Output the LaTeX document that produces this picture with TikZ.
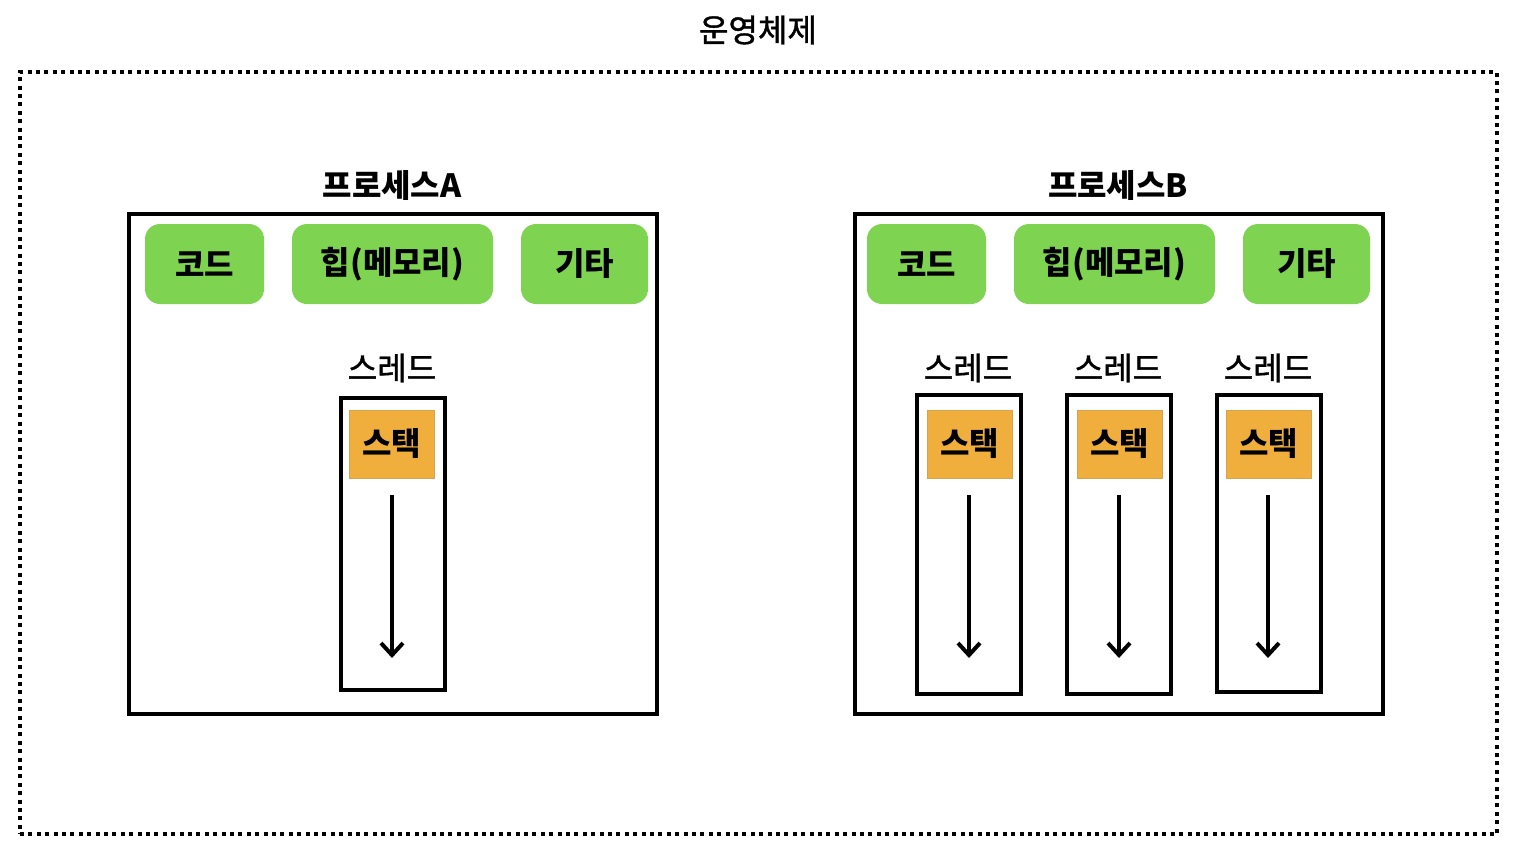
\documentclass[tikz,border=0pt]{standalone}
\usepackage{fontspec}
\setmainfont{Noto Sans CJK KR}
\newfontfamily\midfont{Noto Sans CJK KR}[FakeBold=1.2]
\usetikzlibrary{arrows.meta}
\definecolor{partgreen}{HTML}{7ED350}
\definecolor{stackorange}{HTML}{F0AF3C}
\definecolor{stackedge}{HTML}{D9A24E}

\begin{document}
\begin{tikzpicture}[x=1pt,y=-1pt,
        label text/.style={font=\fontsize{32}{36}\selectfont\midfont},
        bold text/.style={font=\fontsize{32}{36}\selectfont\bfseries},
        os frame/.style={draw,line width=4pt,dash pattern=on 4pt off 4.4pt,minimum width=1477pt,minimum height=762pt},
        proc box/.style={draw,line width=4pt,minimum width=528pt,minimum height=500pt},
        part box/.style={fill=partgreen,rounded corners=15pt,minimum height=80pt,bold text},
        thread box/.style={draw,line width=4pt,minimum width=104pt},
        stack box/.style={fill=stackorange,draw=stackedge,line width=1pt,minimum width=85pt,minimum height=68pt,bold text},
        grow arrow/.style={line width=4pt,-{Straight Barb[length=12pt,width=22pt,line width=4pt]}}]
    \useasboundingbox (0,0) rectangle (1518,852);
    \node[label text] (title) at (758,30) {운영체제};
    \node[os frame] (os) at (758.5,453) {};
    \node[bold text] (pal) at (392,185) {프로세스A};
    \node[proc box] (pa) at (392.5,464) {};
    \node[part box,minimum width=119pt] (ca) at (204.5,264) {코드};
    \node[part box,minimum width=201pt] (ha) at (392.5,264) {힙(메모리)};
    \node[part box,minimum width=127pt] (ea) at (584.5,264) {기타};
    \node[label text] (tal) at (392,368) {스레드};
    \node[thread box,minimum height=292pt] (ta) at (392.5,544) {};
    \node[stack box] (sa) at (391.5,444) {스택};
    \coordinate (sa0) at (392,495);
    \coordinate (sa1) at (392,658);
    \draw[grow arrow] (sa0)--(sa1);
    \node[bold text] (pbl) at (1118,185) {프로세스B};
    \node[proc box] (pb) at (1119,464) {};
    \node[part box,minimum width=119pt] (cb) at (926.5,264) {코드};
    \node[part box,minimum width=201pt] (hb) at (1114.5,264) {힙(메모리)};
    \node[part box,minimum width=127pt] (eb) at (1306.5,264) {기타};
    \node[label text] (tbl1) at (968,368) {스레드};
    \node[label text] (tbl2) at (1118,368) {스레드};
    \node[label text] (tbl3) at (1268,368) {스레드};
    \node[thread box,minimum height=299pt] (tb1) at (968.5,544.5) {};
    \node[thread box,minimum height=299pt] (tb2) at (1119,544.5) {};
    \node[thread box,minimum height=297pt] (tb3) at (1269,543.5) {};
    \node[stack box] (sb1) at (969.5,444) {스택};
    \node[stack box] (sb2) at (1119.5,444) {스택};
    \node[stack box] (sb3) at (1268.5,444) {스택};
    \coordinate (sb10) at (969,495);
    \coordinate (sb11) at (969,658);
    \coordinate (sb20) at (1119,495);
    \coordinate (sb21) at (1119,658);
    \coordinate (sb30) at (1268,495);
    \coordinate (sb31) at (1268,658);
    \draw[grow arrow] (sb10)--(sb11);
    \draw[grow arrow] (sb20)--(sb21);
    \draw[grow arrow] (sb30)--(sb31);
\end{tikzpicture}
\end{document}
